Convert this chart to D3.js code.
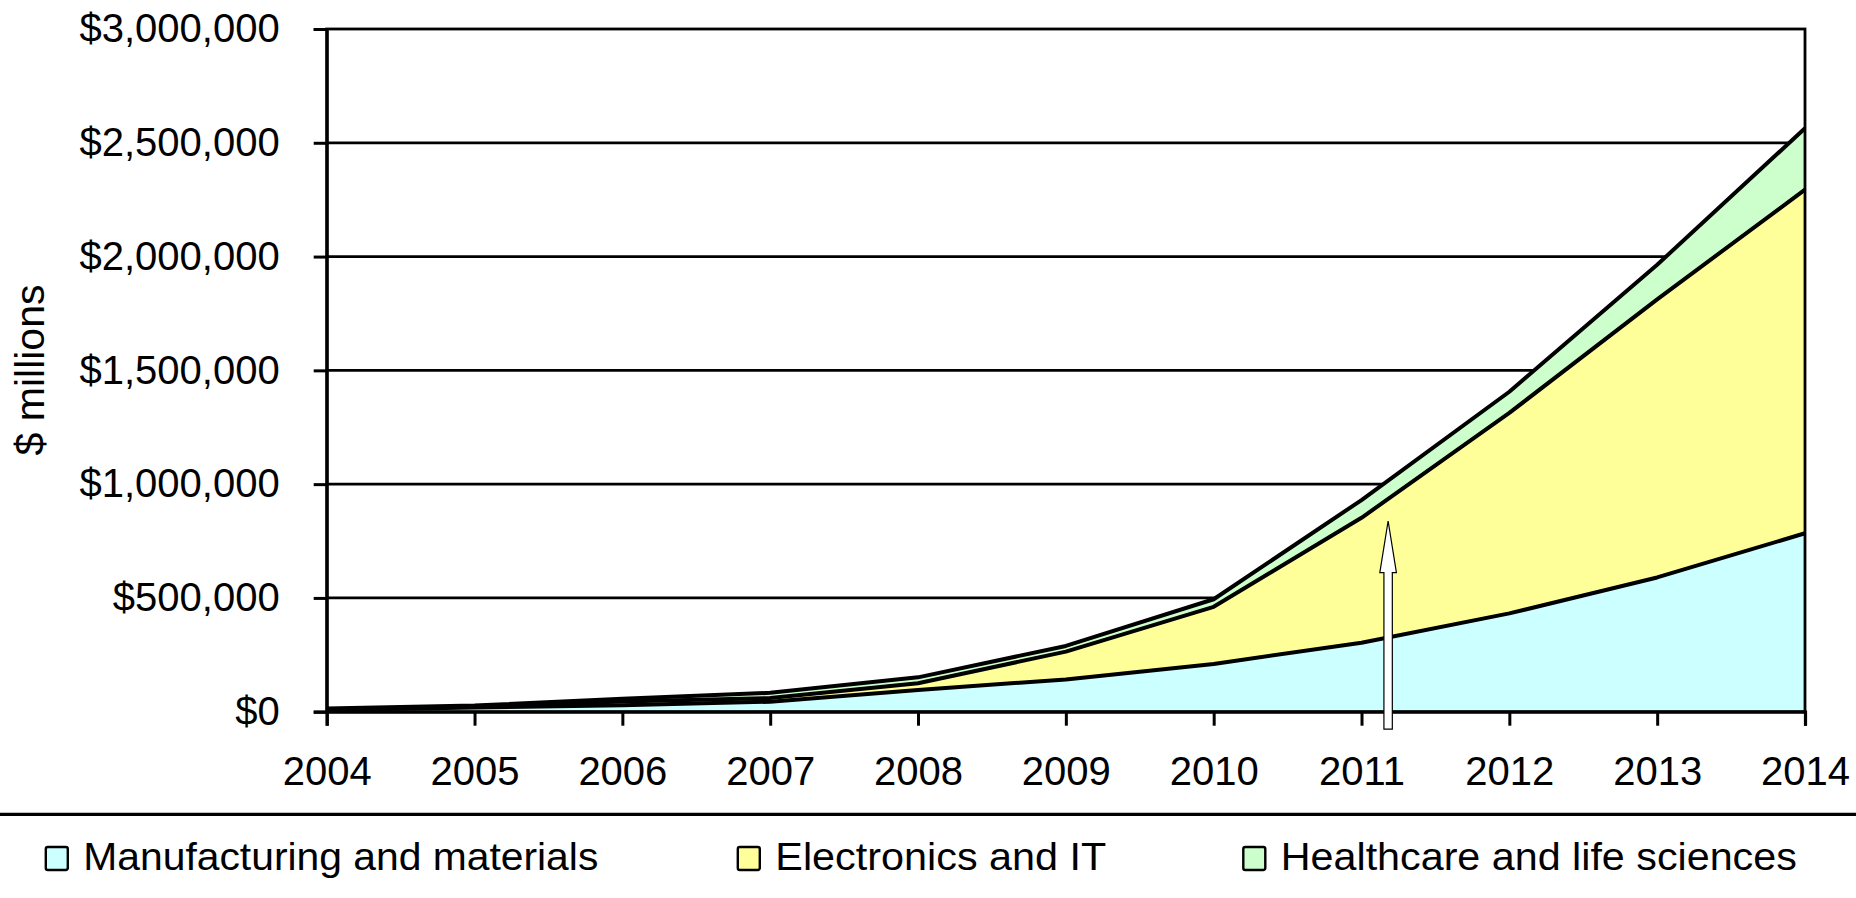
<!DOCTYPE html>
<html>
<head>
<meta charset="utf-8">
<script src="https://cdn.jsdelivr.net/npm/d3@7"></script>
<style>
  body { margin: 0; background: #fff; }
  svg { display: block; font-family: "Liberation Sans", Arial, sans-serif; }
  .tick line { stroke: #000; stroke-width: 3; }
  .tick text { fill: #000; font-size: 40px; }
</style>
</head>
<body>
<svg></svg>
<script>
// chart size
var width = 1856;
var height = 898;

// data --> values in $ millions
var years = [2004, 2005, 2006, 2007, 2008, 2009, 2010, 2011, 2012, 2013, 2014];
var manufacturing = [7000, 18000, 28000, 44000, 95000, 142000, 210000, 303000, 432000, 590000, 784000];
var electronics = [3000, 4000, 17000, 16000, 30000, 122000, 251000, 549000, 881000, 1222000, 1510000];
var healthcare = [4000, 5000, 12000, 23000, 26000, 25000, 33000, 78000, 93000, 152000, 270000];

var seriesNames = ['Manufacturing and materials', 'Electronics and IT', 'Healthcare and life sciences'];
var seriesColors = ['#ccffff', '#ffff99', '#ccffcc'];
var yTicks = [0, 500000, 1000000, 1500000, 2000000, 2500000, 3000000];

// arrow annotation (year, value at tip, value at head base, value at tail)
var arrowYear = 2011.18;
var arrowTip = 838000;
var arrowHead = 611000;
var arrowTail = -77000;

var table = years.map((yr, i) => ({
  year: yr,
  m: manufacturing[i],
  e: electronics[i],
  h: healthcare[i]
}));

var stack = d3.stack().keys(['m', 'e', 'h']);
var layers = stack(table);

var scaleX = d3.scaleLinear()
  .domain([2004, 2014])
  .range([326.7, 1805]);

var scaleY = d3.scaleLinear()
  .domain([0, 3000000])
  .range([711.7, 29]);

var svg = d3.select('svg')
  .attr('width', width)
  .attr('height', height);

// gridlines (behind areas)
svg.append('g')
  .selectAll('line')
  .data(yTicks.slice(1, -1))
  .enter()
  .append('line')
    .attr('x1', scaleX(2004))
    .attr('x2', scaleX(2014))
    .attr('y1', d => scaleY(d))
    .attr('y2', d => scaleY(d))
    .attr('stroke', '#000')
    .attr('stroke-width', 2.8);

// stacked areas
var area = d3.area()
  .x(d => scaleX(d.data.year))
  .y0(d => scaleY(d[0]))
  .y1(d => scaleY(d[1]));

svg.append('g')
  .selectAll('path')
  .data(layers)
  .enter()
  .append('path')
    .attr('d', area)
    .attr('fill', (d, i) => seriesColors[i]);

// top edge of each layer
var edge = d3.line()
  .x(d => scaleX(d.data.year))
  .y(d => scaleY(d[1]));

svg.append('g')
  .selectAll('path')
  .data(layers)
  .enter()
  .append('path')
    .attr('d', edge)
    .attr('fill', 'none')
    .attr('stroke', '#000')
    .attr('stroke-width', 4)
    .attr('stroke-linejoin', 'round');

// plot frame
svg.append('rect')
  .attr('x', scaleX(2004))
  .attr('y', scaleY(3000000))
  .attr('width', scaleX(2014) - scaleX(2004))
  .attr('height', scaleY(0) - scaleY(3000000))
  .attr('fill', 'none')
  .attr('stroke', '#000')
  .attr('stroke-width', 2.8);

// Axis
var yAxis = d3.axisLeft(scaleY)
  .tickValues(yTicks)
  .tickFormat(d3.format('$,'))
  .tickSize(13)
  .tickPadding(34);

var xAxis = d3.axisBottom(scaleX)
  .tickValues(years)
  .tickFormat(d3.format('d'))
  .tickSize(14)
  .tickPadding(31);

svg.append('g')
  .attr('transform', 'translate(' + scaleX(2004) + ',0)')
  .call(yAxis)
  .call(g => g.select('.domain').attr('stroke', '#000').attr('stroke-width', 3.2));

svg.append('g')
  .attr('transform', 'translate(0,' + scaleY(0) + ')')
  .call(xAxis)
  .call(g => g.select('.domain').attr('stroke', '#000').attr('stroke-width', 3.2));

svg.selectAll('.tick text').attr('font-family', null).attr('font-size', null);
svg.selectAll('.tick line').attr('stroke', null);

// hollow arrow
var ax = scaleX(arrowYear);
var arrowPts = [
  [ax, scaleY(arrowTip)],
  [ax + 8.3, scaleY(arrowHead)],
  [ax + 4.2, scaleY(arrowHead)],
  [ax + 4.2, scaleY(arrowTail)],
  [ax - 4.2, scaleY(arrowTail)],
  [ax - 4.2, scaleY(arrowHead)],
  [ax - 8.3, scaleY(arrowHead)]
];
svg.append('polygon')
  .attr('points', arrowPts.map(p => p.join(',')).join(' '))
  .attr('fill', '#fff')
  .attr('stroke', '#000')
  .attr('stroke-width', 1.2);

// Y label
svg.append('text')
  .attr('transform', 'translate(44,370) rotate(-90)')
  .style('text-anchor', 'middle')
  .style('font-size', '41px')
  .text('$ millions');

// separator above legend
svg.append('line')
  .attr('x1', 0)
  .attr('x2', width)
  .attr('y1', 814.3)
  .attr('y2', 814.3)
  .attr('stroke', '#000')
  .attr('stroke-width', 3.2);

// Legend
var legendX = [83.3, 775.3, 1280.8];
var legendW = [515, 331, 516];

var legend = svg.append('g')
  .selectAll('g')
  .data(seriesNames)
  .enter()
  .append('g')
    .attr('transform', (d, i) => 'translate(' + legendX[i] + ',870)');

legend.append('rect')
  .attr('x', -37.5)
  .attr('y', -23)
  .attr('width', 22)
  .attr('height', 23)
  .attr('rx', 2)
  .attr('fill', (d, i) => seriesColors[i])
  .attr('stroke', '#000')
  .attr('stroke-width', 2.4);

legend.append('text')
  .style('font-size', '38px')
  .attr('textLength', (d, i) => legendW[i])
  .attr('lengthAdjust', 'spacingAndGlyphs')
  .text(d => d);
</script>
</body>
</html>
